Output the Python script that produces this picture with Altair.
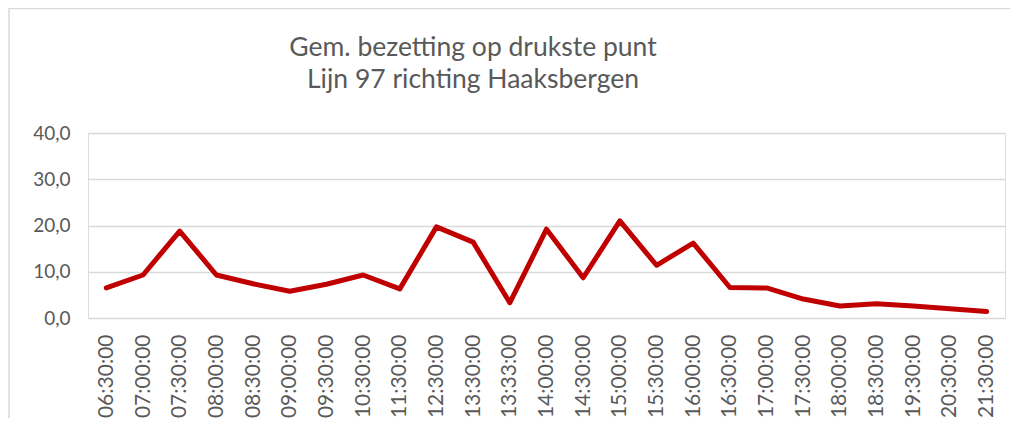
import altair as alt
import pandas as pd

times = ["06:30:00", "07:00:00", "07:30:00", "08:00:00", "08:30:00", "09:00:00",
         "09:30:00", "10:30:00", "11:30:00", "12:30:00", "13:30:00", "13:33:00",
         "14:00:00", "14:30:00", "15:00:00", "15:30:00", "16:00:00", "16:30:00",
         "17:00:00", "17:30:00", "18:00:00", "18:30:00", "19:30:00", "20:30:00",
         "21:30:00"]
values = [6.5, 9.3, 18.8, 9.3, 7.4, 5.8, 7.3, 9.3, 6.3, 19.7, 16.4, 3.3,
          19.2, 8.7, 21.0, 11.4, 16.2, 6.6, 6.5, 4.1, 2.6, 3.1, 2.6, 2.0, 1.4]
title_lines = ["Gem. bezetting op drukste punt", "Lijn 97 richting Haaksbergen"]

df = pd.DataFrame({"tijd": times, "bezetting": values})
tdf = pd.DataFrame({"regel": title_lines, "nr": [0, 1]})

grey = "#595959"
font = "Lato"

line = alt.Chart(df).mark_line(color="#c00000", strokeWidth=5, strokeCap="round", strokeJoin="round").encode(
    x=alt.X("tijd:N", sort=None, title=None,
            axis=alt.Axis(labelAngle=-90, labelAlign="right", labelBaseline="middle",
                          labelFontSize=21, labelColor=grey, labelFont=font,
                          labelPadding=16, ticks=False, domain=False, grid=False)),
    y=alt.Y("bezetting:Q", title=None,
            scale=alt.Scale(domain=[0, 40], nice=False),
            axis=alt.Axis(values=[0, 10, 20, 30, 40], format=".1f",
                          labelFontSize=19, labelColor=grey, labelFont=font,
                          labelPadding=18, ticks=False, domain=False,
                          gridColor="#d9d9d9", gridWidth=1.5)),
)

frame = alt.Chart(tdf).transform_filter("datum.nr == 0").mark_rect(
    fill="transparent", stroke="#d9d9d9", strokeWidth=1.5
).encode(x=alt.value(-79), x2=alt.value(1100), y=alt.value(-124.5), y2=alt.value(500))

title1 = alt.Chart(tdf).transform_filter("datum.nr == 0").mark_text(
    font=font, fontSize=26.5, color=grey, align="center", baseline="alphabetic"
).encode(text="regel:N", x=alt.value(385), y=alt.value(-77))
title2 = alt.Chart(tdf).transform_filter("datum.nr == 1").mark_text(
    font=font, fontSize=26.5, color=grey, align="center", baseline="alphabetic"
).encode(text="regel:N", x=alt.value(385), y=alt.value(-45))

chart = alt.layer(frame, title1, title2, line).properties(
    width=917, height=185,
    autosize=alt.AutoSizeParams(type="none"),
    padding={"left": 80, "top": 125, "right": 5, "bottom": 100},
).configure_view(stroke=None).configure(
    locale={"number": {"decimal": ",", "thousands": ".", "grouping": [3], "currency": ["€", ""]}}
)

chart.save("out.html", embed_options={"renderer": "svg", "actions": False})
